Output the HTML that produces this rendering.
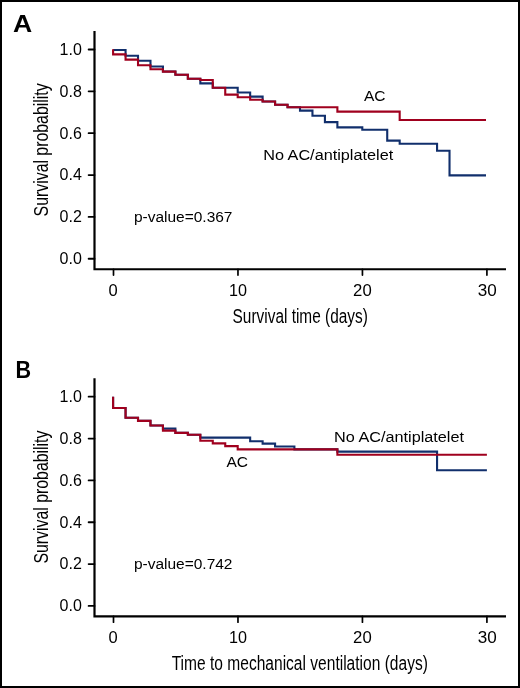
<!DOCTYPE html>
<html><head><meta charset="utf-8"><title>Kaplan-Meier survival curves</title>
<style>
html,body{margin:0;padding:0;background:#fff;}
body{width:520px;height:688px;overflow:hidden;}
svg{display:block;will-change:transform;}
text{font-family:"Liberation Sans",sans-serif;fill:#000;}
.tk{font-size:16px;}
.ax{font-size:20px;}
.an{font-size:15.5px;}
.pl{font-size:24px;font-weight:bold;}
</style></head><body>
<svg width="520" height="688" viewBox="0 0 520 688">
<rect x="0" y="0" width="520" height="688" fill="#fff"/>
<rect x="1" y="1" width="518" height="686" fill="none" stroke="#000" stroke-width="2"/>
<path d="M94.50 31.00 V269.25 H506.00" fill="none" stroke="#000" stroke-width="2.2" stroke-linejoin="miter"/>
<line x1="88.6" y1="49.50" x2="94.50" y2="49.50" stroke="#000" stroke-width="1.8" stroke-linecap="round"/>
<text x="81.9" y="54.80" text-anchor="end" class="tk" style="font-size:16.4px" textLength="22.3" lengthAdjust="spacingAndGlyphs">1.0</text>
<line x1="88.6" y1="91.35" x2="94.50" y2="91.35" stroke="#000" stroke-width="1.8" stroke-linecap="round"/>
<text x="81.9" y="96.65" text-anchor="end" class="tk" style="font-size:16.4px" textLength="22.3" lengthAdjust="spacingAndGlyphs">0.8</text>
<line x1="88.6" y1="133.20" x2="94.50" y2="133.20" stroke="#000" stroke-width="1.8" stroke-linecap="round"/>
<text x="81.9" y="138.50" text-anchor="end" class="tk" style="font-size:16.4px" textLength="22.3" lengthAdjust="spacingAndGlyphs">0.6</text>
<line x1="88.6" y1="175.05" x2="94.50" y2="175.05" stroke="#000" stroke-width="1.8" stroke-linecap="round"/>
<text x="81.9" y="180.35" text-anchor="end" class="tk" style="font-size:16.4px" textLength="22.3" lengthAdjust="spacingAndGlyphs">0.4</text>
<line x1="88.6" y1="216.90" x2="94.50" y2="216.90" stroke="#000" stroke-width="1.8" stroke-linecap="round"/>
<text x="81.9" y="222.20" text-anchor="end" class="tk" style="font-size:16.4px" textLength="22.3" lengthAdjust="spacingAndGlyphs">0.2</text>
<line x1="88.6" y1="258.75" x2="94.50" y2="258.75" stroke="#000" stroke-width="1.8" stroke-linecap="round"/>
<text x="81.9" y="264.05" text-anchor="end" class="tk" style="font-size:16.4px" textLength="22.3" lengthAdjust="spacingAndGlyphs">0.0</text>
<line x1="113.50" y1="269.25" x2="113.50" y2="275.05" stroke="#000" stroke-width="1.7" stroke-linecap="round"/>
<text x="113.00" y="295.80" text-anchor="middle" class="tk" style="font-size:16.5px">0</text>
<line x1="237.97" y1="269.25" x2="237.97" y2="275.05" stroke="#000" stroke-width="1.7" stroke-linecap="round"/>
<text x="237.97" y="295.80" text-anchor="middle" class="tk" style="font-size:16.5px" textLength="18.0" lengthAdjust="spacingAndGlyphs">10</text>
<line x1="362.44" y1="269.25" x2="362.44" y2="275.05" stroke="#000" stroke-width="1.7" stroke-linecap="round"/>
<text x="362.44" y="295.80" text-anchor="middle" class="tk" style="font-size:16.5px" textLength="18.6" lengthAdjust="spacingAndGlyphs">20</text>
<line x1="486.91" y1="269.25" x2="486.91" y2="275.05" stroke="#000" stroke-width="1.7" stroke-linecap="round"/>
<text x="487.21" y="295.80" text-anchor="middle" class="tk" style="font-size:16.5px" textLength="19.0" lengthAdjust="spacingAndGlyphs">30</text>
<text transform="translate(48.2 216.40) rotate(-90)" x="0" y="0" class="ax" textLength="133" lengthAdjust="spacingAndGlyphs">Survival probability</text>
<text x="232.60" y="322.60" class="ax" textLength="135.20" lengthAdjust="spacingAndGlyphs">Survival time (days)</text>
<text x="13.00" y="31.90" class="pl" textLength="19.20" lengthAdjust="spacingAndGlyphs">A</text>
<text x="133.9" y="221.60" class="an" textLength="98.6" lengthAdjust="spacingAndGlyphs">p-value=0.367</text>
<text x="363.90" y="101.40" class="an" textLength="21.6" lengthAdjust="spacingAndGlyphs">AC</text>
<text x="263.20" y="159.60" class="an" textLength="130" lengthAdjust="spacingAndGlyphs">No AC/antiplatelet</text>
<path d="M113.10 50.00 H125.56 V55.80 H138.02 V60.70 H150.48 V66.50 H162.94 V71.50 H175.40 V74.70 H187.86 V78.80 H200.32 V83.40 H212.78 V87.70 H237.70 V92.50 H250.16 V96.60 H262.62 V101.50 H275.08 V104.80 H287.54 V107.30 H300.00 V110.60 H312.46 V115.70 H324.92 V122.10 H337.38 V127.40 H362.30 V129.70 H387.22 V140.60 H399.68 V143.80 H437.06 V150.80 H449.52 V175.40 H486.00" fill="none" stroke="#112f6c" stroke-width="2.10" stroke-linejoin="miter" stroke-linecap="butt"/>
<path d="M113.10 49.30 V54.40 H125.56 V59.60 H138.02 V65.30 H150.48 V69.20 H162.94 V71.60 H175.40 V74.70 H187.86 V78.80 H200.32 V80.00 H212.78 V87.70 H225.24 V94.60 H237.70 V97.20 H250.16 V99.70 H262.62 V101.50 H275.08 V104.80 H287.54 V107.20 H337.38 V111.60 H399.68 V120.00 H486.00" fill="none" stroke="#a0001e" stroke-width="2.10" stroke-linejoin="miter" stroke-linecap="butt"/>
<path d="M94.50 378.20 V616.45 H506.00" fill="none" stroke="#000" stroke-width="2.2" stroke-linejoin="miter"/>
<line x1="88.6" y1="396.70" x2="94.50" y2="396.70" stroke="#000" stroke-width="1.8" stroke-linecap="round"/>
<text x="81.9" y="402.00" text-anchor="end" class="tk" style="font-size:16.4px" textLength="22.3" lengthAdjust="spacingAndGlyphs">1.0</text>
<line x1="88.6" y1="438.55" x2="94.50" y2="438.55" stroke="#000" stroke-width="1.8" stroke-linecap="round"/>
<text x="81.9" y="443.85" text-anchor="end" class="tk" style="font-size:16.4px" textLength="22.3" lengthAdjust="spacingAndGlyphs">0.8</text>
<line x1="88.6" y1="480.40" x2="94.50" y2="480.40" stroke="#000" stroke-width="1.8" stroke-linecap="round"/>
<text x="81.9" y="485.70" text-anchor="end" class="tk" style="font-size:16.4px" textLength="22.3" lengthAdjust="spacingAndGlyphs">0.6</text>
<line x1="88.6" y1="522.25" x2="94.50" y2="522.25" stroke="#000" stroke-width="1.8" stroke-linecap="round"/>
<text x="81.9" y="527.55" text-anchor="end" class="tk" style="font-size:16.4px" textLength="22.3" lengthAdjust="spacingAndGlyphs">0.4</text>
<line x1="88.6" y1="564.10" x2="94.50" y2="564.10" stroke="#000" stroke-width="1.8" stroke-linecap="round"/>
<text x="81.9" y="569.40" text-anchor="end" class="tk" style="font-size:16.4px" textLength="22.3" lengthAdjust="spacingAndGlyphs">0.2</text>
<line x1="88.6" y1="605.95" x2="94.50" y2="605.95" stroke="#000" stroke-width="1.8" stroke-linecap="round"/>
<text x="81.9" y="611.25" text-anchor="end" class="tk" style="font-size:16.4px" textLength="22.3" lengthAdjust="spacingAndGlyphs">0.0</text>
<line x1="113.50" y1="616.45" x2="113.50" y2="622.25" stroke="#000" stroke-width="1.7" stroke-linecap="round"/>
<text x="113.00" y="643.00" text-anchor="middle" class="tk" style="font-size:16.5px">0</text>
<line x1="237.97" y1="616.45" x2="237.97" y2="622.25" stroke="#000" stroke-width="1.7" stroke-linecap="round"/>
<text x="237.97" y="643.00" text-anchor="middle" class="tk" style="font-size:16.5px" textLength="18.0" lengthAdjust="spacingAndGlyphs">10</text>
<line x1="362.44" y1="616.45" x2="362.44" y2="622.25" stroke="#000" stroke-width="1.7" stroke-linecap="round"/>
<text x="362.44" y="643.00" text-anchor="middle" class="tk" style="font-size:16.5px" textLength="18.6" lengthAdjust="spacingAndGlyphs">20</text>
<line x1="486.91" y1="616.45" x2="486.91" y2="622.25" stroke="#000" stroke-width="1.7" stroke-linecap="round"/>
<text x="487.21" y="643.00" text-anchor="middle" class="tk" style="font-size:16.5px" textLength="19.0" lengthAdjust="spacingAndGlyphs">30</text>
<text transform="translate(48.2 563.60) rotate(-90)" x="0" y="0" class="ax" textLength="133" lengthAdjust="spacingAndGlyphs">Survival probability</text>
<text x="171.70" y="669.80" class="ax" textLength="256.20" lengthAdjust="spacingAndGlyphs">Time to mechanical ventilation (days)</text>
<text x="15.40" y="378.10" class="pl" textLength="15.60" lengthAdjust="spacingAndGlyphs">B</text>
<text x="133.9" y="568.80" class="an" textLength="98.6" lengthAdjust="spacingAndGlyphs">p-value=0.742</text>
<text x="226.40" y="466.90" class="an" textLength="21.6" lengthAdjust="spacingAndGlyphs">AC</text>
<text x="334.00" y="441.80" class="an" textLength="130" lengthAdjust="spacingAndGlyphs">No AC/antiplatelet</text>
<path d="M113.10 396.80 V408.00 H125.56 V417.70 H138.02 V420.90 H150.48 V425.50 H162.94 V428.60 H175.40 V432.90 H187.86 V434.80 H200.32 V437.60 H250.16 V441.30 H262.62 V443.60 H275.08 V446.50 H294.39 V449.40 H337.38 V451.60 H437.06 V470.30 H486.90" fill="none" stroke="#112f6c" stroke-width="2.10" stroke-linejoin="miter" stroke-linecap="butt"/>
<path d="M113.10 396.80 V408.00 H125.56 V417.70 H138.02 V420.90 H150.48 V425.50 H162.94 V430.60 H175.40 V432.90 H187.86 V434.80 H200.32 V440.70 H212.78 V443.40 H225.24 V446.10 H237.70 V449.40 H337.38 V454.70 H486.90" fill="none" stroke="#a0001e" stroke-width="2.10" stroke-linejoin="miter" stroke-linecap="butt"/>
</svg>
</body></html>
